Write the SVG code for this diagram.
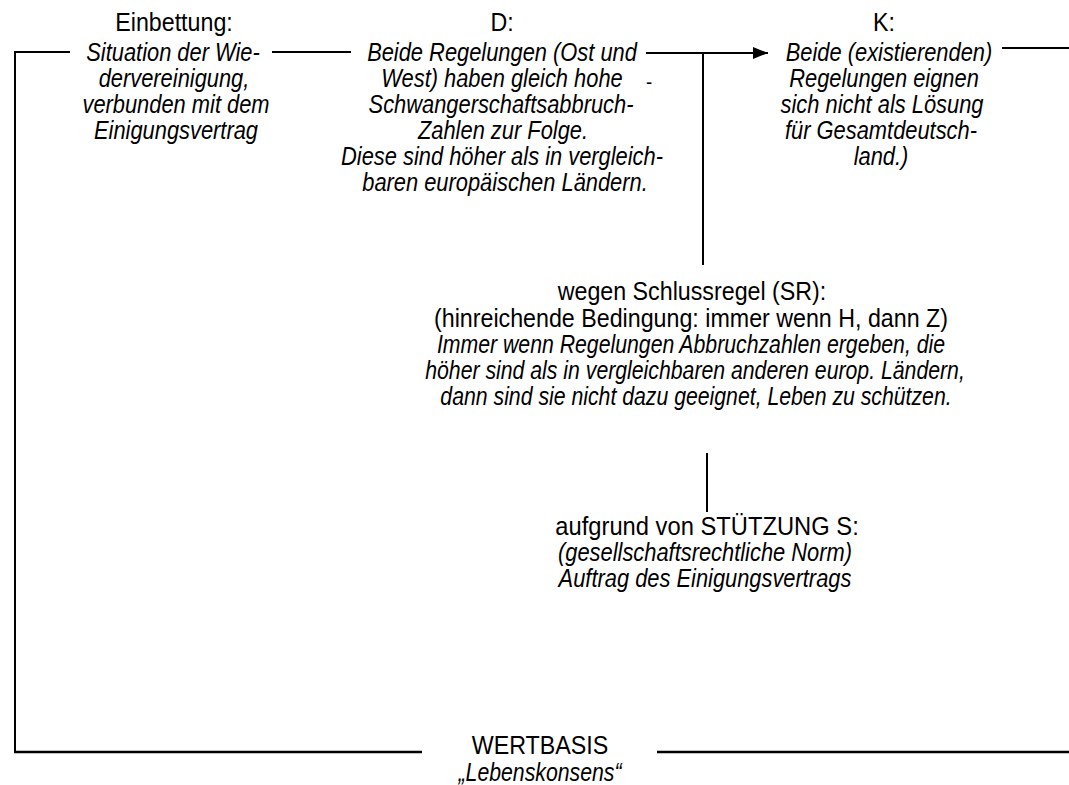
<svg xmlns="http://www.w3.org/2000/svg" width="1069" height="785" viewBox="0 0 1069 785">
<style>
text{font-family:"Liberation Sans Narrow","Arial Narrow","Liberation Sans",sans-serif;font-size:25px;fill:#000;text-anchor:middle;dominant-baseline:central}
.i{font-style:italic}
.c{stroke:#000;stroke-width:2;fill:none}
.b{stroke-width:2.5}
</style>
<defs>
<marker id="ah" viewBox="0 0 15 12" refX="15" refY="6" markerWidth="15" markerHeight="12" markerUnits="userSpaceOnUse" orient="auto"><path d="M0,0L15,6L0,12z" fill="#000"/></marker>
</defs>
<rect width="1069" height="785" fill="#fff"/>
<g id="connectors">
<path class="c" d="M14,52H70"/>
<path class="c" d="M15,51V753"/>
<path class="c" d="M272,52H351"/>
<path class="c" d="M646,53H768" marker-end="url(#ah)"/>
<path class="c" d="M703,53V265"/>
<path class="c" d="M1002,48H1069"/>
<path class="c" d="M707,453V512"/>
<path class="c b" d="M14,752H422"/>
<path class="c b" d="M657,752H1069"/>
</g>
<g id="einbettung">
<text transform="translate(174 22) scale(.93 1)">Einbettung:</text>
<text class="i" transform="translate(173 52) scale(.875 1)">Situation der Wie-</text>
<text class="i" transform="translate(174 78) scale(.875 1)">dervereinigung,</text>
<text class="i" transform="translate(176 104) scale(.875 1)">verbunden mit dem</text>
<text class="i" transform="translate(176 130) scale(.875 1)">Einigungsvertrag</text>
</g>
<g id="datum">
<text transform="translate(502 22) scale(.93 1)">D:</text>
<text class="i" transform="translate(502 52) scale(.875 1)">Beide Regelungen (Ost und</text>
<text class="i" transform="translate(502 78) scale(.875 1)">West) haben gleich hohe</text>
<text class="i" transform="translate(501 104) scale(.875 1)">Schwangerschaftsabbruch-</text>
<text class="i" transform="translate(503 130) scale(.875 1)">Zahlen zur Folge.</text>
<text class="i" transform="translate(502 156) scale(.875 1)">Diese sind höher als in vergleich-</text>
<text class="i" transform="translate(505 182) scale(.875 1)">baren europäischen Ländern.</text>
<text style="font-size:20px" transform="translate(649 82) scale(.93 1)">-</text>
</g>
<g id="konklusion">
<text transform="translate(884 22) scale(.93 1)">K:</text>
<text class="i" transform="translate(889 52) scale(.875 1)">Beide (existierenden)</text>
<text class="i" transform="translate(884 78) scale(.875 1)">Regelungen eignen</text>
<text class="i" transform="translate(882 104) scale(.875 1)">sich nicht als Lösung</text>
<text class="i" transform="translate(881 130) scale(.875 1)">für Gesamtdeutsch-</text>
<text class="i" transform="translate(881 156) scale(.875 1)">land.)</text>
</g>
<g id="schlussregel">
<text transform="translate(692 291) scale(.93 1)">wegen Schlussregel (SR):</text>
<text transform="translate(691 318) scale(.93 1)">(hinreichende Bedingung: immer wenn H, dann Z)</text>
<text class="i" transform="translate(691 344) scale(.85 1)">Immer wenn Regelungen Abbruchzahlen ergeben, die</text>
<text class="i" transform="translate(695 370) scale(.85 1)">höher sind als in vergleichbaren anderen europ. Ländern,</text>
<text class="i" transform="translate(696 396) scale(.85 1)">dann sind sie nicht dazu geeignet, Leben zu schützen.</text>
</g>
<g id="stuetzung">
<text transform="translate(707 526) scale(.95 1)">aufgrund von STÜTZUNG S:</text>
<text class="i" transform="translate(705 552) scale(.875 1)">(gesellschaftsrechtliche Norm)</text>
<text class="i" transform="translate(705 578) scale(.875 1)">Auftrag des Einigungsvertrags</text>
</g>
<g id="wertbasis">
<text transform="translate(540 745) scale(.93 1)">WERTBASIS</text>
<text class="i" transform="translate(540 772) scale(.85 1)">„Lebenskonsens“</text>
</g>
</svg>
